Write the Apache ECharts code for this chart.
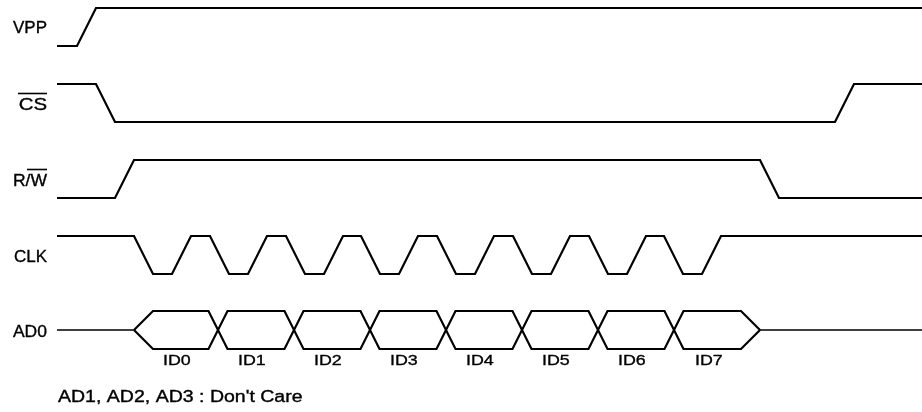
<!DOCTYPE html>
<html>
<head>
<meta charset="utf-8">
<script src="https://cdn.jsdelivr.net/npm/echarts@6/dist/echarts.min.js"></script>
<style>
html,body{margin:0;padding:0;background:#fff;}
#c{width:922px;height:412px;}
</style>
</head>
<body>
<div id="c"></div>
<script>
// ---- data ----
const signalNames = ['VPP', 'CS', 'R/W', 'CLK', 'AD0'];
const rowHigh = [8, 84, 160, 236, 311];
const rowLow  = [46, 122, 198, 274, 349];
const busMid = 330;

const vppT = [57, 77, 96, 922];
const vppV = [0, 0, 1, 1];
const csT  = [57, 96, 115, 835, 854, 922];
const csV  = [1, 1, 0, 0, 1, 1];
const rwT  = [57, 115, 134, 760, 779, 922];
const rwV  = [0, 0, 1, 1, 0, 0];
const clkT = [57, 134, 153, 172, 191, 210, 229, 248, 267, 286, 305, 324, 343,
              361, 380, 399, 418, 437, 456, 475, 494, 513, 532, 551, 570,
              589, 608, 627, 646, 664, 683, 702, 721, 922];
const clkV = [1, 1, 0, 0, 1, 1, 0, 0, 1, 1, 0, 0, 1,
              1, 0, 0, 1, 1, 0, 0, 1, 1, 0, 0, 1,
              1, 0, 0, 1, 1, 0, 0, 1, 1];

const busLineStart = 57;
const busBegin = 134;
const busCross = [218, 294, 370, 446, 522, 598, 674];
const busEnd = 760;
const busLineEnd = 922;
const busLabels = ['ID0', 'ID1', 'ID2', 'ID3', 'ID4', 'ID5', 'ID6', 'ID7'];
const busLabelT = [163, 238, 314, 390, 466, 542, 618, 695];
const noteText = "AD1, AD2, AD3 : Don't Care";

// ---- build ----
function wave(ts, vs, row) {
  return ts.map((t, i) => [t, vs[i] ? rowHigh[row] : rowLow[row]]);
}
const openW = 19, crossHalf = 9.5;
function busPath(startUp) {
  const hi = rowHigh[4], lo = rowLow[4];
  let up = startUp;
  const pts = [[busBegin, busMid], [busBegin + openW, up ? hi : lo]];
  busCross.forEach(c => {
    pts.push([c - crossHalf, up ? hi : lo]);
    up = !up;
    pts.push([c + crossHalf, up ? hi : lo]);
  });
  pts.push([busEnd - openW, up ? hi : lo]);
  pts.push([busEnd, busMid]);
  return pts;
}

function ser(data, w) {
  return {
    type: 'line', data: data, showSymbol: false, symbol: 'none', silent: true,
    lineStyle: { color: '#000', width: w || 2.2, join: 'miter' }, animation: false
  };
}

const chart = echarts.init(document.getElementById('c'), null, { renderer: 'canvas' });
chart.setOption({
  backgroundColor: '#fff',
  animation: false,
  grid: { left: 0, right: 0, top: 0, bottom: 0 },
  xAxis: { type: 'value', min: 0, max: 922, show: false },
  yAxis: { type: 'value', min: 0, max: 412, inverse: true, show: false },
  series: [
    ser(wave(vppT, vppV, 0)),
    ser(wave(csT, csV, 1)),
    ser(wave(rwT, rwV, 2)),
    ser(wave(clkT, clkV, 3)),
    ser(busPath(true)),
    ser(busPath(false)),
    ser([[busLineStart, busMid], [busBegin, busMid]], 1.6),
    ser([[busEnd, busMid], [busLineEnd, busMid]], 1.6)
  ]
});

const font = '"Liberation Sans", Arial, Helvetica, sans-serif';
const px = (x, y) => chart.convertToPixel({ gridIndex: 0 }, [x, y]);
const labelCenters = [28, 105, 181, 257, 332.5];
const labelScale = [1, 1.2, 1.03, 1, 1.03];
function txt(x, y, text, size, align, sx) {
  return {
    type: 'text', x: x, y: y, scaleX: sx || 1,
    style: { text: text, fill: '#000', stroke: '#000', lineWidth: 0.35,
             font: size + 'px ' + font, fontSize: size, fontFamily: font,
             textAlign: align, textVerticalAlign: 'middle', align: align, verticalAlign: 'middle' }
  };
}
const g = [];
signalNames.forEach((n, i) => g.push(txt(47, labelCenters[i], n, 17, 'right', labelScale[i])));
// overlines for CS and W
g.push({ type: 'line', shape: { x1: 18, y1: 93.5, x2: 47, y2: 93.5 }, style: { stroke: '#000', lineWidth: 1.6 } });
g.push({ type: 'line', shape: { x1: 27, y1: 169.5, x2: 47, y2: 169.5 }, style: { stroke: '#000', lineWidth: 1.6 } });

busLabels.forEach((n, i) => {
  const p = px(busLabelT[i], 361);
  g.push(txt(p[0], p[1], n, 15.5, 'left', 1.15));
});
g.push(txt(58, 397.5, noteText, 16, 'left', 1.22));
chart.setOption({ graphic: g });
</script>
</body>
</html>
